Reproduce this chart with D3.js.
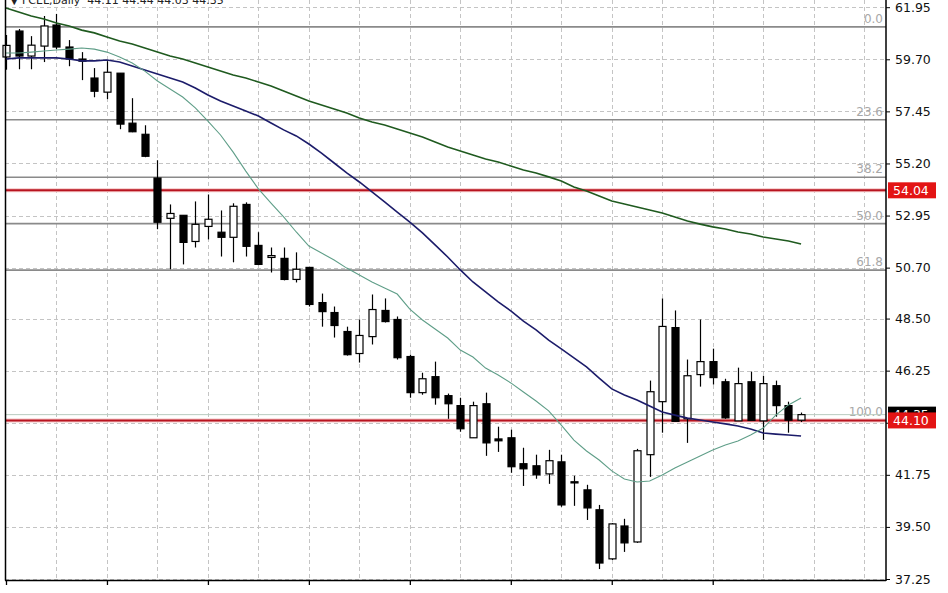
<!DOCTYPE html>
<html>
<head>
<meta charset="utf-8">
<script src="https://cdn.jsdelivr.net/npm/d3@7"></script>
<style>
html,body{margin:0;padding:0;background:#fff;overflow:hidden;}
svg{display:block;}
text{font-family:"DejaVu Sans",sans-serif;}
</style>
</head>
<body>
<svg id="chart" width="948" height="593"></svg>
<script>
// ---- data ----
const title = "▼ FCEL,Daily  44.11 44.44 44.03 44.35";
const opens  = [59.80,60.92,59.84,60.27,61.18,60.23,59.71,58.89,58.28,59.10,56.94,56.46,54.57,52.83,52.96,51.83,52.48,52.23,52.01,53.43,51.66,51.14,51.10,50.19,50.71,49.19,48.76,47.94,46.99,47.72,48.85,48.46,46.86,45.30,45.99,45.17,44.74,43.35,44.82,43.30,43.35,42.23,42.14,41.79,42.31,41.45,41.10,40.24,38.12,39.54,38.85,42.62,44.91,48.11,44.17,46.08,46.64,45.77,44.08,45.77,44.08,45.60,44.74,44.11];
const highs  = [60.75,61.01,60.70,61.57,61.66,60.53,60.01,59.32,59.62,59.10,58.02,56.85,55.34,53.43,52.96,53.56,53.86,53.17,53.48,53.52,52.23,51.57,51.57,51.36,50.71,49.58,49.02,48.15,48.46,49.54,49.37,48.59,46.94,46.16,46.64,45.26,45.08,44.91,45.30,43.83,43.70,42.92,42.62,42.83,42.62,41.71,41.32,40.45,39.67,39.85,42.87,45.82,49.37,48.85,46.73,48.46,47.20,45.90,46.38,46.21,46.03,45.82,44.91,44.44];
const lows   = [59.25,59.27,59.27,59.58,60.14,59.40,58.80,58.06,57.98,56.68,56.55,55.47,52.36,50.63,50.84,51.57,51.92,51.18,50.93,51.18,50.80,50.49,50.15,50.06,49.02,48.15,47.68,46.90,46.60,47.38,48.33,46.73,45.08,45.21,44.78,44.17,43.61,43.35,42.57,42.74,41.84,41.27,41.58,41.36,40.37,40.41,39.80,37.68,38.07,38.42,38.81,41.66,43.57,44.04,43.13,45.56,45.65,44.17,44.08,44.08,43.26,44.26,43.57,44.03];
const closes = [60.30,59.84,60.31,61.14,60.23,59.71,59.62,58.32,59.14,56.90,56.57,55.51,52.66,53.04,51.79,52.57,52.79,52.01,53.35,51.62,50.84,51.22,50.19,50.63,49.11,48.80,48.20,46.94,47.77,48.89,48.37,46.81,45.30,45.90,45.08,44.82,43.74,44.74,43.13,43.22,42.10,42.01,41.75,42.36,40.45,41.40,40.32,37.94,39.63,38.81,42.79,45.34,48.16,44.06,46.03,46.64,45.95,44.21,45.69,44.10,45.69,44.74,44.11,44.35];
const maLong  = [61.92,61.74,61.57,61.44,61.27,61.14,60.96,60.84,60.66,60.49,60.36,60.19,60.01,59.84,59.71,59.54,59.37,59.19,59.02,58.89,58.72,58.55,58.33,58.11,57.90,57.73,57.55,57.38,57.16,56.99,56.86,56.69,56.52,56.34,56.13,55.91,55.74,55.57,55.39,55.26,55.09,54.92,54.79,54.62,54.44,54.18,54.01,53.79,53.58,53.45,53.32,53.19,53.06,52.89,52.71,52.58,52.46,52.37,52.24,52.15,52.02,51.94,51.85,51.72];
const maMid   = [59.71,59.76,59.76,59.76,59.76,59.71,59.63,59.63,59.67,59.58,59.41,59.24,59.06,58.89,58.72,58.46,58.16,57.90,57.68,57.47,57.25,56.95,56.65,56.39,56.04,55.65,55.22,54.79,54.40,53.97,53.54,53.10,52.67,52.20,51.68,51.16,50.60,50.08,49.65,49.22,48.83,48.39,48.01,47.57,47.19,46.80,46.41,45.93,45.46,45.20,44.98,44.72,44.46,44.33,44.20,44.12,44.03,43.95,43.86,43.73,43.56,43.51,43.47,43.43];
const maShort = [59.97,59.97,60.01,60.06,60.10,60.14,60.19,60.14,60.01,59.80,59.54,59.19,58.76,58.42,58.07,57.60,57.03,56.43,55.69,54.87,54.10,53.49,52.89,52.24,51.63,51.33,51.03,50.68,50.38,50.08,49.82,49.56,48.91,48.44,48.05,47.66,47.14,46.84,46.36,46.06,45.72,45.33,44.94,44.51,43.90,43.25,42.78,42.39,41.92,41.57,41.44,41.48,41.74,42.04,42.30,42.56,42.82,43.04,43.21,43.47,43.77,44.33,44.77,45.07];
const priceTicks  = [61.95,59.70,57.45,55.20,52.95,50.70,48.50,46.25,44.00,41.75,39.50,37.25];
const hiddenTick  = 44.00; // covered by the price labels in the reference
const fibLevels   = ["0.0","23.6","38.2","50.0","61.8","100.0"];
const fibRatios   = [0,0.236,0.382,0.5,0.618,1];
const fibHigh = 61.10, fibLow = 44.10;
const hLines = [54.04, 44.10];
const bidPrice = 44.35;

// ---- layout ----
const svg = d3.select("#chart");
const L = 5, R = 886, B = 580, T = 0;
const x = d3.scaleLinear().domain([0, 68]).range([6, 6 + 12.62 * 68]);
const y = d3.scaleLinear().domain([37.25, 61.95]).range([579, 7.2]);
const idx = d3.range(opens.length);

// grid
const g = svg.append("g");
g.selectAll(".hg").data(priceTicks).enter().append("line")
  .attr("x1", L).attr("x2", R).attr("y1", d => Math.round(y(d)) + 0.5).attr("y2", d => Math.round(y(d)) + 0.5)
  .attr("stroke", "#c4c4c4").attr("stroke-dasharray", "4,3");
g.selectAll(".vg").data(d3.range(4, 69, 4)).enter().append("line")
  .attr("y1", T).attr("y2", B).attr("x1", d => Math.round(x(d)) + 0.5).attr("x2", d => Math.round(x(d)) + 0.5)
  .attr("stroke", "#c4c4c4").attr("stroke-dasharray", "4,3");

// fib lines
fibRatios.forEach((r, i) => {
  const p = fibHigh - r * (fibHigh - fibLow);
  g.append("line").attr("x1", L).attr("x2", R).attr("y1", y(p)).attr("y2", y(p))
    .attr("stroke", "#8a8a8a").attr("stroke-width", 1.6);
  g.append("text").attr("x", 883).attr("y", y(p) - 4).attr("text-anchor", "end")
    .attr("font-size", 12).attr("fill", "#a8a8a8").text(fibLevels[i]);
});

// bid line
g.append("line").attr("x1", L).attr("x2", R).attr("y1", y(bidPrice)).attr("y2", y(bidPrice))
  .attr("stroke", "#b9cbbf").attr("stroke-width", 1);

// red horizontal lines
hLines.forEach(p => {
  g.append("line").attr("x1", L).attr("x2", R).attr("y1", y(p)).attr("y2", y(p))
    .attr("stroke", "#f4c4c4").attr("stroke-width", 4);
  g.append("line").attr("x1", L).attr("x2", R).attr("y1", y(p)).attr("y2", y(p))
    .attr("stroke", "#b81420").attr("stroke-width", 2);
});

// candles
const c = svg.append("g");
idx.forEach(i => {
  const cx = Math.round(x(i)) + 0.5;
  c.append("line").attr("x1", cx).attr("x2", cx).attr("y1", y(highs[i])).attr("y2", y(lows[i]))
    .attr("stroke", "#000").attr("stroke-width", 1.2);
  const top = y(Math.max(opens[i], closes[i])), bot = y(Math.min(opens[i], closes[i]));
  const bull = closes[i] >= opens[i];
  c.append("rect").attr("x", cx - 3.5).attr("width", 7)
    .attr("y", top).attr("height", Math.max(bot - top, 1))
    .attr("fill", bull ? "#fff" : "#000").attr("stroke", "#000").attr("stroke-width", 1.2);
});

// moving averages
const line = d3.line().x((d, i) => x(i)).y(d => y(d));
svg.append("path").datum(maLong).attr("d", line).attr("fill", "none").attr("stroke", "#1f5a1f").attr("stroke-width", 1.6);
svg.append("path").datum(maMid).attr("d", line).attr("fill", "none").attr("stroke", "#1c1c6a").attr("stroke-width", 1.6);
svg.append("path").datum(maShort).attr("d", line).attr("fill", "none").attr("stroke", "#5f9e88").attr("stroke-width", 1.1);

// frame
svg.append("line").attr("x1", L + 0.5).attr("x2", L + 0.5).attr("y1", T).attr("y2", B + 0.5).attr("stroke", "#000").attr("stroke-width", 1.5);
svg.append("line").attr("x1", L).attr("x2", R).attr("y1", B + 0.5).attr("y2", B + 0.5).attr("stroke", "#000").attr("stroke-width", 1.5);

// price axis
const yAxis = d3.axisRight(y).tickValues(priceTicks).tickSize(4).tickPadding(5)
  .tickFormat(d => d === hiddenTick ? "" : d3.format(".2f")(d));
const ya = svg.append("g").attr("transform", `translate(${R},0)`).call(yAxis);
ya.select(".domain").attr("stroke", "#000").attr("stroke-width", 1.5).attr("d", `M0,${T}V${B + 1}`);
ya.selectAll("text").attr("font-size", 12.5).attr("fill", "#111").attr("font-family", "DejaVu Sans");

// time axis ticks
const xAxis = d3.axisBottom(x).tickValues(d3.range(0, 57, 8)).tickSize(5).tickFormat("");
const xa = svg.append("g").attr("transform", `translate(0,${B})`).call(xAxis);
xa.select(".domain").remove();
xa.selectAll("line").attr("stroke", "#000").attr("stroke-width", 1.3);

// price labels
function priceLabel(p, fill) {
  const yy = y(p);
  svg.append("rect").attr("x", 888).attr("y", yy - 8).attr("width", 48).attr("height", 16).attr("fill", fill);
  svg.append("text").attr("x", 893).attr("y", yy + 4.5).attr("font-size", 12.5).attr("fill", "#fff").text(d3.format(".2f")(p));
}
priceLabel(bidPrice, "#000");
hLines.forEach(p => priceLabel(p, "#e31414"));

// title
svg.append("text").attr("x", 10).attr("y", 4).attr("font-size", 11).attr("fill", "#222")
  .style("white-space", "pre").text(title);
</script>
</body>
</html>
